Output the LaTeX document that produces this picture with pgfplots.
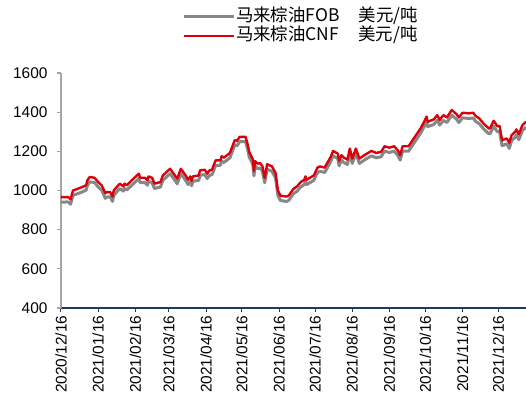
\documentclass[border=0pt]{standalone}
\usepackage{pgfplots}
\pgfplotsset{compat=1.18}
\usepackage{fontspec}
\setmainfont{Liberation Sans}
\newfontfamily\cjk{Noto Sans CJK SC}
\definecolor{cnfred}{RGB}{220,0,10}
\definecolor{fobgray}{RGB}{135,135,135}
\definecolor{axnavy}{RGB}{31,56,100}
\definecolor{axgray}{RGB}{165,165,165}

% day 0 = 2020/12/16
\pgfplotstableread{
day val
0 940
6 942
8 930
10 975
14 984
19 996
21 1002
22 1026
24 1044
28 1041
31 1018
34 1001
37 960
38 966
41 968
43 944
44 975
47 996
49 1010
52 997
53 1010
55 1003
59 1027
65 1061
66 1040
70 1041
72 1027
73 1047
76 1040
78 1010
83 1018
85 1052
88 1069
91 1086
94 1061
97 1034
100 1086
104 1052
106 1030
108 1047
109 1024
110 1047
115 1052
116 1078
120 1081
122 1061
124 1078
126 1080
129 1128
133 1129
134 1150
136 1143
141 1167
142 1184
145 1232
147 1229
149 1249
154 1249
156 1205
157 1172
160 1135
161 1075
162 1125
164 1112
166 1115
168 1100
170 1040
172 1109
176 1098
179 1065
181 975
183 949
188 944
190 949
194 984
197 996
200 1018
203 1030
204 1047
205 1030
211 1052
214 1092
216 1098
220 1092
225 1146
227 1177
231 1163
232 1126
234 1155
236 1143
239 1133
241 1189
243 1138
246 1189
249 1138
253 1155
259 1177
263 1167
267 1172
270 1201
274 1194
278 1201
281 1180
283 1155
285 1201
290 1201
300 1292
303 1326
305 1352
306 1326
311 1337
314 1359
316 1334
319 1358
322 1347
326 1385
330 1364
332 1347
335 1371
340 1368
344 1370
346 1353
349 1341
353 1312
357 1290
358 1290
361 1328
364 1301
366 1300
368 1229
372 1238
374 1215
376 1255
379 1272
380 1284
382 1259
385 1306
388 1323
}\fobdata

\pgfplotstableread{
day val
0 966
6 966
8 955
10 1000
14 1009
19 1021
21 1027
22 1052
24 1069
28 1065
31 1043
34 1026
37 986
38 992
41 992
43 969
44 1000
47 1021
49 1035
52 1021
53 1035
55 1027
59 1052
65 1086
66 1065
70 1065
72 1052
73 1072
76 1065
78 1035
83 1043
85 1077
88 1094
91 1111
94 1086
97 1060
100 1111
104 1077
106 1055
108 1072
109 1049
110 1072
115 1077
116 1103
120 1106
122 1086
124 1103
126 1106
129 1154
133 1154
134 1175
136 1168
141 1192
142 1209
145 1257
147 1254
149 1274
154 1274
156 1230
157 1197
160 1160
161 1100
162 1150
164 1137
166 1140
168 1125
170 1065
172 1134
176 1123
179 1090
181 1000
183 974
188 969
190 974
194 1009
197 1021
200 1043
203 1055
204 1072
205 1055
211 1077
214 1117
216 1123
220 1117
225 1171
227 1202
231 1188
232 1151
234 1180
236 1168
239 1158
241 1214
243 1163
246 1214
249 1163
253 1180
259 1202
263 1192
267 1197
270 1226
274 1219
278 1226
281 1205
283 1180
285 1226
290 1226
300 1317
303 1351
305 1377
306 1351
311 1363
314 1385
316 1360
319 1385
322 1373
326 1411
330 1390
332 1373
335 1397
340 1394
344 1397
346 1380
349 1368
353 1339
357 1317
358 1317
361 1356
364 1329
366 1329
368 1257
372 1266
374 1243
376 1283
379 1300
380 1312
382 1287
385 1334
388 1351
}\cnfdata

\begin{document}
\begin{tikzpicture}
\path[use as bounding box] (-61bp,-95bp) rectangle (465bp,308bp);
\begin{axis}[
    at={(0,0)}, anchor=south west,
    scale only axis, width=465bp, height=235bp,
    xmin=0, xmax=388, ymin=400, ymax=1600,
    axis x line*=bottom, axis y line*=left,
    x axis line style={axnavy, line width=1.2bp},
    y axis line style={axgray, line width=1.5bp},
    tick align=outside, major tick length=4bp,
    x tick style={axnavy, line width=1bp},
    y tick style={axgray, line width=1.2bp},
    xtick={0,31,62,90,121,151,182,212,243,274,304,335,365},
    xticklabels={2020/12/16,2021/01/16,2021/02/16,2021/03/16,2021/04/16,2021/05/16,2021/06/16,2021/07/16,2021/08/16,2021/09/16,2021/10/16,2021/11/16,2021/12/16},
    ytick={400,600,...,1600},
    /pgf/number format/assume math mode=true,
    /pgf/number format/1000 sep={},
    tick label style={font=\fontsize{15.5}{18}\selectfont, black},
    x tick label style={rotate=90, anchor=east},
    y tick label style={xshift=-6bp},
    legend style={at={(rel axis cs:0.26,1.28)}, anchor=north west,
        draw=none, fill=none, inner sep=0pt, row sep=0pt,
        font=\cjk\fontsize{17.5}{18}\selectfont,
        nodes={inner sep=1bp, text height=13bp, text depth=4bp}},
    legend cell align=left,
    legend image code/.code={\draw[#1] (0bp,0bp) -- (50bp,0bp);},
]
\addplot[fobgray, line width=3bp, line join=round] table[x=day, y=val] {\fobdata};
\addlegendentry{马来棕油FOB\hspace{1.1em}美元/吨}
\addplot[cnfred, line width=2.4bp, line join=round] table[x=day, y=val] {\cnfdata};
\addlegendentry{马来棕油CNF\hspace{1.1em}美元/吨}
\end{axis}
\end{tikzpicture}
\end{document}
